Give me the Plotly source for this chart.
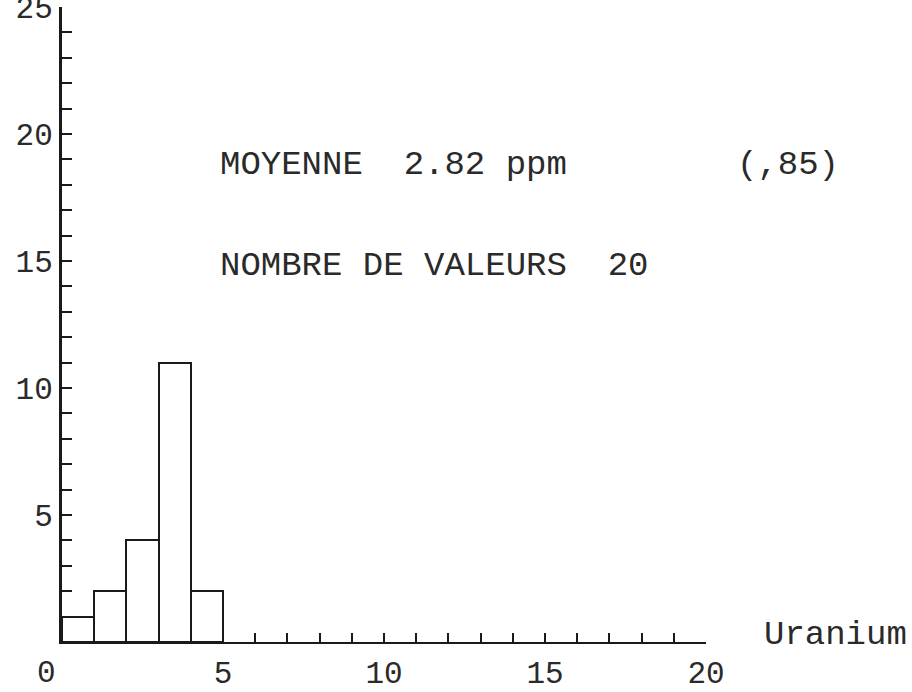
import plotly.graph_objects as go

# Histogram of uranium contents (ppm), bins of width 1
bin_left = [0, 1, 2, 3, 4]
counts = [1, 2, 4, 11, 2]
bin_width = 1

x_ticks = [5, 10, 15, 20]
x_origin_label = "0"
y_ticks = [5, 10, 15, 20, 25]

mean_text = "MOYENNE  2.82 ppm"
sd_text = "(,85)"
count_text = "NOMBRE DE VALEURS  20"
axis_name = "Uranium"

FONT = "Liberation Mono"
INK = "#1a1a1a"
TXT = "#2a2a2a"
SIZE = 34
TICK_SIZE = 31

fig = go.Figure()
fig.add_trace(go.Bar(
    x=[b + bin_width / 2 for b in bin_left],
    y=counts,
    width=bin_width,
    marker=dict(color="white", line=dict(color=INK, width=2)),
    showlegend=False,
    hoverinfo="skip",
))

fig.update_xaxes(
    range=[0, 20],
    tickvals=x_ticks,
    ticktext=[str(v) for v in x_ticks],
    ticks="inside", ticklen=9, tickwidth=1.5, tickcolor=INK,
    minor=dict(dtick=1, ticks="inside", ticklen=9, tickwidth=1.5, tickcolor=INK),
    showline=True, linecolor=INK, linewidth=1.5,
    showgrid=False, zeroline=False,
    tickfont=dict(family=FONT, size=TICK_SIZE, color=TXT),
    ticklabelstandoff=2,
    automargin=False,
)
fig.update_yaxes(
    range=[0, 25],
    tickvals=y_ticks,
    ticktext=[str(v) for v in y_ticks],
    ticks="inside", ticklen=10, tickwidth=1.5, tickcolor=INK,
    minor=dict(dtick=1, ticks="inside", ticklen=10, tickwidth=1.5, tickcolor=INK),
    showline=True, linecolor=INK, linewidth=3,
    showgrid=False, zeroline=False,
    tickfont=dict(family=FONT, size=TICK_SIZE, color=TXT),
    ticklabeloverflow="allow",
    automargin=False,
)

txt_font = dict(family=FONT, size=SIZE, color=TXT)
# origin label, set slightly left of the corner
fig.add_annotation(x=0, y=0, yref="y", text=x_origin_label, showarrow=False,
                   xanchor="center", yanchor="middle", xshift=-16, yshift=-31,
                   font=dict(family=FONT, size=TICK_SIZE, color=TXT))
fig.add_annotation(x=4.84, y=18.78, text=mean_text, showarrow=False,
                   xanchor="left", yanchor="middle", font=txt_font)
fig.add_annotation(x=1.045, xref="paper", y=18.78, text=sd_text, showarrow=False,
                   xanchor="left", yanchor="middle", font=txt_font)
fig.add_annotation(x=4.84, y=14.8, text=count_text, showarrow=False,
                   xanchor="left", yanchor="middle", font=txt_font)
fig.add_annotation(x=1.087, xref="paper", y=0.28, text=axis_name, showarrow=False,
                   xanchor="left", yanchor="middle", font=txt_font)

fig.update_layout(
    width=912, height=692,
    margin=dict(l=62, r=206, t=7, b=50),
    paper_bgcolor="white", plot_bgcolor="white",
    bargap=0,
)

fig.write_html("out.html")
